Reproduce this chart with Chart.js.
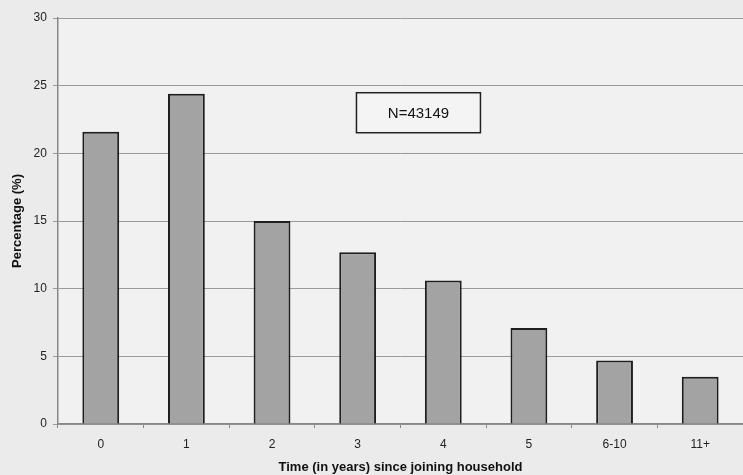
<!DOCTYPE html>
<html>
<head>
<meta charset="utf-8">
<script src="https://cdn.jsdelivr.net/npm/chart.js@4"></script>
<style>
  html, body { margin: 0; padding: 0; background: #ebebeb; }
  #wrap { width: 743px; height: 475px; }
</style>
</head>
<body>
<div id="wrap"><canvas id="chart" width="743" height="475"></canvas></div>
<script>
// Data
const categories = ["0", "1", "2", "3", "4", "5", "6-10", "11+"];
const percentages = [21.6, 24.4, 15.0, 12.7, 10.6, 7.1, 4.7, 3.5];
const yTicks = [0, 5, 10, 15, 20, 25, 30];
const noteText = "N=43149";
// where the note box sits, in data units (category index, percent)
const notePos = [3.71, 23.0];

// Paint backgrounds and the N= box
const decor = {
  id: "decor",
  beforeDraw(chart) {
    let ctx = chart.ctx, a = chart.chartArea;
    ctx.save();
    ctx.fillStyle = "#ebebeb";
    ctx.fillRect(0, 0, chart.width, chart.height);
    ctx.fillStyle = "#f1f1f1";
    ctx.fillRect(a.left, a.top, a.right - a.left, a.bottom - a.top);
    ctx.restore();
  },
  afterDatasetsDraw(chart) {
    let ctx = chart.ctx;
    let cx = chart.scales.x.getPixelForValue(notePos[0]);
    let cy = chart.scales.y.getPixelForValue(notePos[1]);
    ctx.save();
    ctx.font = "15px 'Liberation Sans', Arial, sans-serif";
    let w = 124, h = 40;
    ctx.fillStyle = "#f4f4f4";
    ctx.fillRect(cx - w / 2, cy - h / 2, w, h);
    ctx.strokeStyle = "#222";
    ctx.lineWidth = 1.5;
    ctx.strokeRect(cx - w / 2, cy - h / 2, w, h);
    ctx.fillStyle = "#111";
    ctx.textAlign = "center";
    ctx.textBaseline = "middle";
    ctx.fillText(noteText, cx, cy + 1);
    ctx.restore();
  }
};

let ctx = document.getElementById("chart").getContext("2d");
new Chart(ctx, {
  type: "bar",
  data: {
    labels: categories,
    datasets: [{
      data: percentages,
      backgroundColor: "#a3a3a3",
      borderColor: "#1e1e1e",
      borderWidth: 2,
      categoryPercentage: 1.0,
      barPercentage: 0.43
    }]
  },
  options: {
    responsive: false,
    animation: false,
    layout: { padding: { top: 18, right: 0, left: 10, bottom: 0 } },
    plugins: { legend: { display: false }, tooltip: { enabled: false } },
    scales: {
      x: {
        offset: true,
        grid: { offset: true, drawOnChartArea: false, color: "#888", tickLength: 4 },
        border: { color: "#888", width: 1.5 },
        ticks: { color: "#222", font: { family: "'Liberation Sans', Arial", size: 12 }, padding: 9 },
        title: {
          display: true,
          text: "Time (in years) since joining household",
          color: "#111",
          font: { family: "'Liberation Sans', Arial", size: 13, weight: "bold" },
          padding: { top: -1, bottom: 0 }
        }
      },
      y: {
        min: 0, max: 30,
        afterBuildTicks(scale) { scale.ticks = yTicks.map(v => ({ value: v })); },
        grid: { color: "#9a9a9a", lineWidth: 1, tickLength: 5 },
        border: { color: "#888", width: 1.5 },
        ticks: { color: "#222", font: { family: "'Liberation Sans', Arial", size: 12 }, padding: 6 },
        title: {
          display: true,
          text: "Percentage (%)",
          color: "#111",
          font: { family: "'Liberation Sans', Arial", size: 13, weight: "bold" },
          padding: { top: 0, bottom: 2 }
        }
      }
    }
  },
  plugins: [decor]
});
</script>
</body>
</html>
